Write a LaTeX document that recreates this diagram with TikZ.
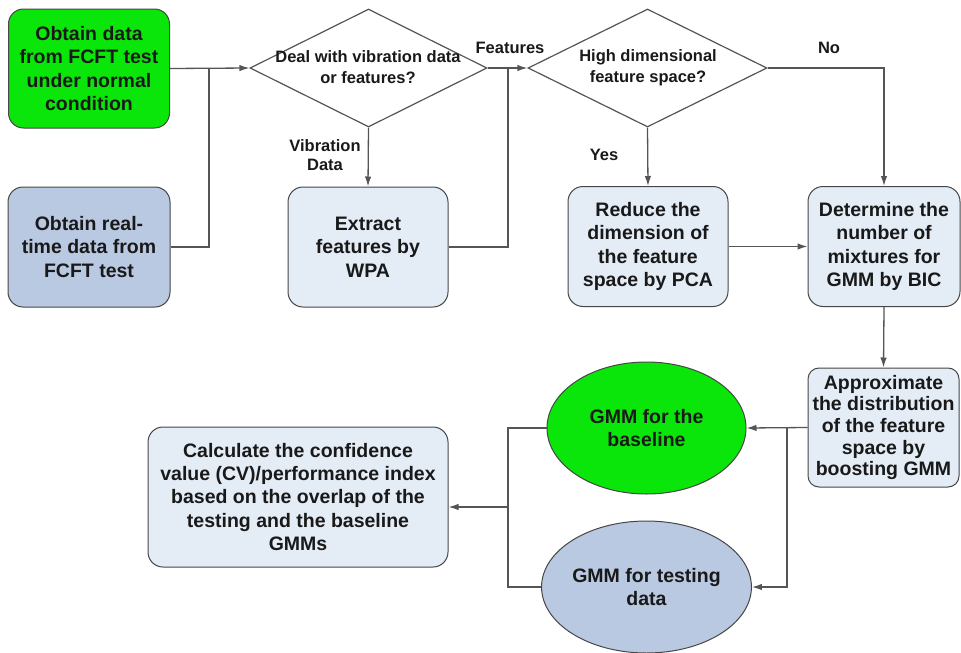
\documentclass[tikz,border=0pt]{standalone}
\usepackage{fontspec}
\setmainfont{Liberation Sans}
\usetikzlibrary{shapes.geometric,arrows.meta}
\definecolor{gfill}{RGB}{10,230,10}
\definecolor{bfill}{RGB}{185,201,226}
\definecolor{lfill}{RGB}{228,236,246}
\definecolor{edge}{RGB}{70,70,70}
\definecolor{lcol}{RGB}{85,85,85}
\definecolor{txt}{RGB}{25,25,25}
\begin{document}
\begin{tikzpicture}[x=1pt,y=-1pt,
  every node/.style={text=txt},
  boxnode/.style={draw=edge, line width=1pt, rounded corners=15pt, align=center, inner sep=0pt,
    font=\bfseries\fontsize{19.5}{23.5}\selectfont},
  decision/.style={draw=lcol, line width=1.2pt, diamond, inner sep=0pt, fill=white},
  dtext/.style={align=center, font=\bfseries\fontsize{16.5}{21}\selectfont, inner sep=0pt},
  lab/.style={align=center, font=\bfseries\fontsize{16.5}{19.5}\selectfont, inner sep=0pt},
  ellnode/.style={draw=edge, line width=1pt, ellipse, inner sep=0pt, align=center,
    minimum width=199pt, minimum height=132pt, font=\bfseries\fontsize{19.5}{22.5}\selectfont},
  conn/.style={draw=lcol, line width=1.3pt},
  arr/.style={conn, -{Latex[length=10pt,width=6.5pt]}}
]
\useasboundingbox (0,0) rectangle (961,653);

% boxes
\node[boxnode, fill=gfill, minimum width=161pt, minimum height=119pt] (b1) at (89,68.5)
  {Obtain data\\from FCFT test\\under normal\\condition};
\node[boxnode, fill=bfill, minimum width=162pt, minimum height=120pt] (b2) at (89,247)
  {Obtain real-\\time data from\\FCFT test};
\node[boxnode, fill=lfill, minimum width=160pt, minimum height=120pt] (b3) at (368,247)
  {Extract\\features by\\WPA};
\node[boxnode, fill=lfill, minimum width=160pt, minimum height=120pt] (b4) at (648,246.5)
  {Reduce the\\dimension of\\the feature\\space by PCA};
\node[boxnode, fill=lfill, minimum width=152pt, minimum height=120pt] (b5) at (884,246.5)
  {Determine the\\number of\\mixtures for\\GMM by BIC};
\node[boxnode, fill=lfill, rounded corners=11pt, minimum width=151pt, minimum height=119pt,
  font=\bfseries\fontsize{19.5}{21.7}\selectfont] (b6) at (883.5,427.5)
  {Approximate\\the distribution\\of the feature\\space by\\boosting GMM};
\node[boxnode, fill=lfill, minimum width=300pt, minimum height=140pt,
  font=\bfseries\fontsize{19.5}{23.3}\selectfont] (b7) at (298,497)
  {Calculate the confidence\\value (CV)/performance index\\based on the overlap of the\\testing and the baseline\\GMMs};

% decisions
\node[decision, minimum width=237pt, minimum height=118pt] (d1) at (368.5,68) {};
\node[dtext] (d1t) at (368,67.5) {Deal with vibration data\\or features?};
\node[decision, minimum width=239pt, minimum height=118pt] (d2) at (647.5,68) {};
\node[dtext] (d2t) at (648,67.5) {High dimensional\\feature space?};

% ellipses
\node[ellnode, fill=gfill] (e1) at (646.5,428) {GMM for the\\baseline};
\node[ellnode, fill=bfill] (e2) at (646.5,587) {GMM for testing\\data};

% labels
\node[lab] (lv) at (325,155) {Vibration\\Data};
\node[lab] (lf) at (510,48) {Features};
\node[lab] (ln) at (829,48) {No};
\node[lab] (ly) at (604,155) {Yes};

% junction coordinates
\coordinate (j1) at (209,68);
\coordinate (j2) at (508,68);
\coordinate (j3) at (787,428);
\coordinate (j4) at (508,507);

% connectors
\draw[arr] (b1.east) -- (d1.west);
\draw[conn] (b2.east) -| (j1);
\draw[arr] (d1.south) -- (b3.north);
\draw[conn] (b3.east) -| (j2);
\draw[arr] (d1.east) -- (d2.west);
\draw[arr] (d2.south) -- (b4.north);
\draw[arr] (d2.east) -| (b5.north);
\draw[arr] (b4.east) -- (b5.west);
\draw[arr] (b5.south) -- (b6.north);
\draw[arr] (b6.west) -- (e1.east);
\draw[arr] (j3) |- (e2.east);
\draw[conn] (e1.west) -| (j4) |- (e2.west);
\draw[arr] (j4) -- (j4 -| b7.east);
\end{tikzpicture}
\end{document}
